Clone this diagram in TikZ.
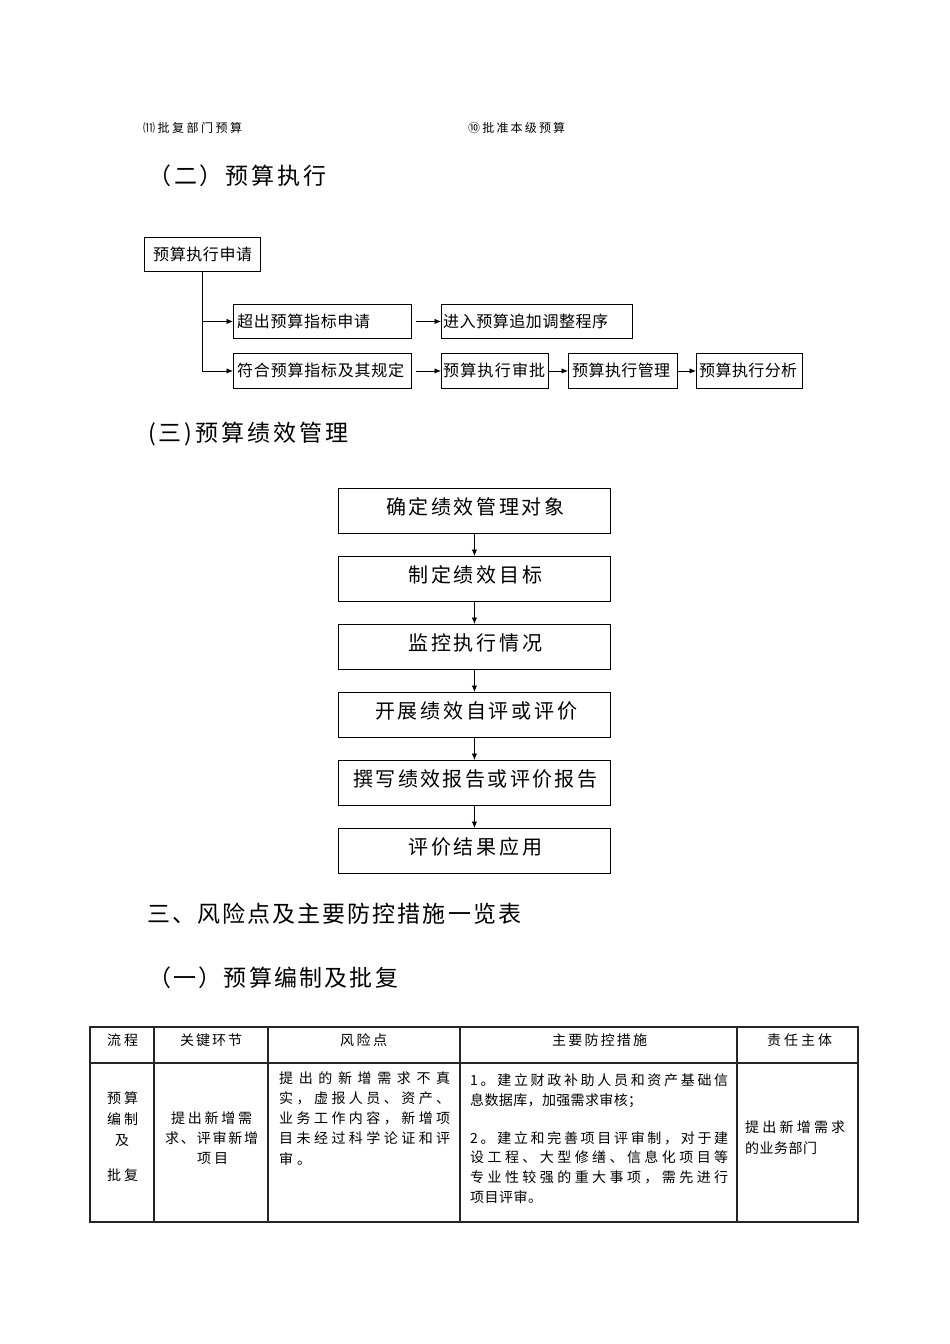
\documentclass[tikz,border=0pt]{standalone}
\usepackage{fontspec}
\setmainfont{Noto Sans CJK SC}
\usetikzlibrary{arrows.meta}
\def\Spreadfirst#1{#1\Spreadrest}
\def\Spreadrest#1{\ifx#1\relax\else\hfil#1\expandafter\Spreadrest\fi}
\newcommand\Spread[2]{\makebox[#1][s]{\Spreadfirst#2\relax}}
\newcommand\Txt[6]{%
  \pgfmathsetmacro\Tb{#4+0.38*#5}%
  \pgfmathsetmacro\Tw{#3-#2}%
  \node[txt,font=\fontsize{#5pt}{#5pt}\selectfont] (#1) at (#2,\Tb) {\Spread{\Tw pt}{#6}};}
\newcommand\Bx[5]{\node[bx,minimum width=#4pt,minimum height=#5pt] (#1) at (#2,#3) {};}
\begin{document}
\begin{tikzpicture}[x=1pt,y=-1pt,
  txt/.style={inner sep=0pt,anchor=base west},
  bx/.style={draw,line width=0.9pt,inner sep=0pt,anchor=north west},
  arr/.style={line width=0.9pt,-{Latex[length=6.5pt,width=5.5pt]}},
  grid/.style={line width=1.2pt,draw=black!85}]
\fill[white] (0,0) rectangle (950,1344);
\useasboundingbox (0,0) rectangle (950,1344);

% top labels
\Txt{l11}{143}{242}{128}{12}{⑾批复部门预算}
\Txt{l10}{468}{565}{128}{12}{⑩批准本级预算}

% headings
\Txt{h2}{148}{326}{176}{23}{（二）预算执行}
\Txt{h3}{148}{348}{433}{23}{(三)预算绩效管理}
\Txt{h4}{147}{521}{914}{23}{三、风险点及主要防控措施一览表}
\Txt{h5}{148}{398}{978}{23}{（一）预算编制及批复}

% section 2 flow
\Bx{b0}{144}{237}{116}{34}
\Bx{b1}{233}{304}{178}{34}
\Bx{b2}{441}{304}{191}{34}
\Bx{b3}{233}{353}{178}{35}
\Bx{b4}{441}{353}{107}{35}
\Bx{b5}{568}{353}{109}{35}
\Bx{b6}{696}{353}{106}{35}
\Txt{t0}{153}{252}{254}{16}{预算执行申请}
\Txt{t1}{237}{370}{321}{16}{超出预算指标申请}
\Txt{t2}{443}{608}{321}{16}{进入预算追加调整程序}
\Txt{t3}{237}{404}{370}{16}{符合预算指标及其规定}
\Txt{t4}{443}{545}{370}{16}{预算执行审批}
\Txt{t5}{572}{670}{370}{16}{预算执行管理}
\Txt{t6}{699}{797}{370}{16}{预算执行分析}
\draw[arr] (b0.south) |- (b1.west);
\draw[arr] (b0.south) |- (b3.west);
\draw[arr] ([xshift=4pt]b1.east) -- (b2.west);
\draw[arr] ([xshift=4pt]b3.east) -- (b4.west);
\draw[arr] (b4.east) -- (b5.west);
\draw[arr] (b5.east) -- (b6.west);

% section 3 flow
\Bx{v1}{338}{488}{272}{45}
\Bx{v2}{338}{556}{272}{45}
\Bx{v3}{338}{624}{272}{45}
\Bx{v4}{338}{692}{272}{45}
\Bx{v5}{338}{760}{272}{45}
\Bx{v6}{338}{828}{272}{45}
\Txt{u1}{386}{564}{506.5}{20}{确定绩效管理对象}
\Txt{u2}{408}{542}{574.5}{20}{制定绩效目标}
\Txt{u3}{408}{542}{642.5}{20}{监控执行情况}
\Txt{u4}{375}{577}{710.5}{20}{开展绩效自评或评价}
\Txt{u5}{353}{597}{778.5}{20}{撰写绩效报告或评价报告}
\Txt{u6}{408}{542}{846.5}{20}{评价结果应用}
\draw[arr] (v1.south) -- (v2.north);
\draw[arr] (v2.south) -- (v3.north);
\draw[arr] (v3.south) -- (v4.north);
\draw[arr] (v4.south) -- (v5.north);
\draw[arr] (v5.south) -- (v6.north);

% table
\draw[grid] (90,1027) rectangle (858,1222);
\draw[grid] (90,1063) -- (858,1063);
\foreach \cx in {154,268,460,737} \draw[grid] (\cx,1027) -- (\cx,1222);
\Txt{th1}{107}{138}{1040}{14}{流程}
\Txt{th2}{180}{242}{1040}{14}{关键环节}
\Txt{th3}{340}{387}{1040}{14}{风险点}
\Txt{th4}{552}{647}{1040}{14}{主要防控措施}
\Txt{th5}{767}{832}{1040}{14}{责任主体}
\Txt{c1a}{107}{138}{1098}{14}{预算}
\Txt{c1b}{107}{138}{1119}{14}{编制}
\Txt{c1c}{115}{129}{1140}{14}{及}
\Txt{c1d}{107}{138}{1175}{14}{批复}
\Txt{c2a}{171}{252}{1118}{14}{提出新增需}
\Txt{c2b}{165}{258}{1138}{14}{求、评审新增}
\Txt{c2c}{197}{228}{1158}{14}{项目}
\Txt{c3a}{279}{450}{1078}{14}{提出的新增需求不真}
\Txt{c3b}{279}{450}{1098}{14}{实，虚报人员、资产、}
\Txt{c3c}{279}{450}{1118}{14}{业务工作内容，新增项}
\Txt{c3d}{279}{450}{1138}{14}{目未经过科学论证和评}
\Txt{c3e}{279}{311}{1159}{14}{审。}
\Txt{c4a}{470}{728}{1080}{14}{1。建立财政补助人员和资产基础信}
\Txt{c4b}{470}{642}{1100}{14}{息数据库，加强需求审核；}
\Txt{c4c}{470}{728}{1138}{14}{2。建立和完善项目评审制，对于建}
\Txt{c4d}{470}{728}{1157}{14}{设工程、大型修缮、信息化项目等}
\Txt{c4e}{470}{728}{1177}{14}{专业性较强的重大事项，需先进行}
\Txt{c4f}{470}{542}{1197}{14}{项目评审。}
\Txt{c5a}{745}{845}{1127}{14}{提出新增需求}
\Txt{c5b}{745}{817}{1148}{14}{的业务部门}
\end{tikzpicture}
\end{document}
